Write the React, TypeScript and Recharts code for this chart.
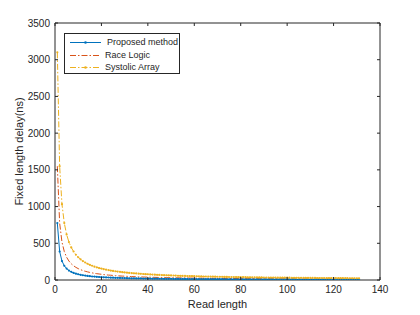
import React from 'react';
import { LineChart, Line, XAxis, YAxis, Legend, Label } from 'recharts';

const readLength = [
  1, 2, 3, 4, 5, 6, 7, 8, 9, 10, 11, 12, 13, 14, 15, 16, 17, 18, 19, 20,
  21, 22, 23, 24, 25, 26, 27, 28, 29, 30, 31, 32, 33, 34, 35, 36, 37, 38, 39, 40,
  41, 42, 43, 44, 45, 46, 47, 48, 49, 50, 51, 52, 53, 54, 55, 56, 57, 58, 59, 60,
  61, 62, 63, 64, 65, 66, 67, 68, 69, 70, 71, 72, 73, 74, 75, 76, 77, 78, 79, 80,
  81, 82, 83, 84, 85, 86, 87, 88, 89, 90, 91, 92, 93, 94, 95, 96, 97, 98, 99, 100,
  101, 102, 103, 104, 105, 106, 107, 108, 109, 110, 111, 112, 113, 114, 115, 116, 117, 118, 119, 120,
  121, 122, 123, 124, 125, 126, 127, 128, 129, 130, 131,
];

const proposedMethod = [
  775, 388, 258, 194, 155, 129, 111, 97, 86, 78,
  70, 65, 60, 55, 52, 48, 46, 43, 41, 39,
  37, 35, 34, 32, 31, 30, 29, 28, 27, 26,
  25, 24, 23, 23, 22, 22, 21, 20, 20, 19,
  19, 18, 18, 18, 17, 17, 16, 16, 16, 16,
  15, 15, 15, 14, 14, 14, 14, 13, 13, 13,
  13, 13, 12, 12, 12, 12, 12, 11, 11, 11,
  11, 11, 11, 10, 10, 10, 10, 10, 10, 10,
  10, 9, 9, 9, 9, 9, 9, 9, 9, 9,
  9, 8, 8, 8, 8, 8, 8, 8, 8, 8,
  8, 8, 8, 7, 7, 7, 7, 7, 7, 7,
  7, 7, 7, 7, 7, 7, 7, 7, 7, 6,
  6, 6, 6, 6, 6, 6, 6, 6, 6, 6,
  6,
];

const raceLogic = [
  1550, 775, 517, 388, 310, 258, 221, 194, 172, 155,
  141, 129, 119, 111, 103, 97, 91, 86, 82, 78,
  74, 70, 67, 65, 62, 60, 57, 55, 53, 52,
  50, 48, 47, 46, 44, 43, 42, 41, 40, 39,
  38, 37, 36, 35, 34, 34, 33, 32, 32, 31,
  30, 30, 29, 29, 28, 28, 27, 27, 26, 26,
  25, 25, 25, 24, 24, 23, 23, 23, 22, 22,
  22, 22, 21, 21, 21, 20, 20, 20, 20, 19,
  19, 19, 19, 18, 18, 18, 18, 18, 17, 17,
  17, 17, 17, 16, 16, 16, 16, 16, 16, 16,
  15, 15, 15, 15, 15, 15, 14, 14, 14, 14,
  14, 14, 14, 14, 13, 13, 13, 13, 13, 13,
  13, 13, 13, 13, 12, 12, 12, 12, 12, 12,
  12,
];

const systolicArray = [
  3100, 1550, 1033, 775, 620, 517, 443, 388, 344, 310,
  282, 258, 238, 221, 207, 194, 182, 172, 163, 155,
  148, 141, 135, 129, 124, 119, 115, 111, 107, 103,
  100, 97, 94, 91, 89, 86, 84, 82, 79, 78,
  76, 74, 72, 70, 69, 67, 66, 65, 63, 62,
  61, 60, 58, 57, 56, 55, 54, 53, 53, 52,
  51, 50, 49, 48, 48, 47, 46, 46, 45, 44,
  44, 43, 42, 42, 41, 41, 40, 40, 39, 39,
  38, 38, 37, 37, 36, 36, 36, 35, 35, 34,
  34, 34, 33, 33, 33, 32, 32, 32, 31, 31,
  31, 30, 30, 30, 30, 29, 29, 29, 28, 28,
  28, 28, 27, 27, 27, 27, 26, 26, 26, 26,
  26, 25, 25, 25, 25, 25, 24, 24, 24, 24,
  24,
];

const xTicks = [0, 20, 40, 60, 80, 100, 120, 140];
const yTicks = [0, 500, 1000, 1500, 2000, 2500, 3000, 3500];

const seriesNames = ['Proposed method', 'Race Logic', 'Systolic Array'];

const data = readLength.map((x, i) => ({
  x,
  p: proposedMethod[i],
  r: raceLogic[i],
  s: systolicArray[i],
}));

const AXIS = '#262626';
const BLUE = '#0072BD';
const RED = '#D95319';
const YELLOW = '#EDB120';
const DASHDOT = '6 2 1.5 2';
const FONT = '"Liberation Sans", Arial, Helvetica, sans-serif';

const BottomTick = (props: any) => {
  const { x, y, payload } = props;
  return (
    <g>
      <line x1={x} x2={x} y1={y} y2={y - 3} stroke={AXIS} strokeWidth={1} />
      <text x={x} y={y + 13} textAnchor="middle" fontSize={10} fill={AXIS} fontFamily={FONT}>
        {payload.value}
      </text>
    </g>
  );
};

const TopTick = (props: any) => {
  const { x, y } = props;
  return <line x1={x} x2={x} y1={y} y2={y + 3} stroke={AXIS} strokeWidth={1} />;
};

const LeftTick = (props: any) => {
  const { x, y, payload } = props;
  return (
    <g>
      <line x1={x} x2={x + 3} y1={y} y2={y} stroke={AXIS} strokeWidth={1} />
      <text x={x - 5} y={y + 3.5} textAnchor="end" fontSize={10} fill={AXIS} fontFamily={FONT}>
        {payload.value}
      </text>
    </g>
  );
};

const RightTick = (props: any) => {
  const { x, y } = props;
  return <line x1={x} x2={x - 3} y1={y} y2={y} stroke={AXIS} strokeWidth={1} />;
};

const legendStyles = [
  { color: BLUE, dash: undefined as string | undefined, marker: true, indent: 2 },
  { color: RED, dash: DASHDOT, marker: false, indent: 0 },
  { color: YELLOW, dash: DASHDOT, marker: true, indent: 0 },
];

const LegendBox = () => (
  <div
    style={{
      width: 116,
      height: 41,
      border: `1px solid ${AXIS}`,
      background: '#fff',
      position: 'relative',
      fontFamily: FONT,
      fontSize: 9,
      color: AXIS,
      boxSizing: 'border-box',
    }}
  >
    {seriesNames.map((name, i) => {
      const st = legendStyles[i];
      return (
        <div
          key={name}
          style={{
            position: 'absolute',
            left: 0,
            top: 2 + i * 12.5,
            height: 12.5,
            width: '100%',
          }}
        >
          <svg width={40} height={12.5} style={{ position: 'absolute', left: 0, top: 0 }}>
            <line x1={5} x2={36} y1={6.5} y2={6.5} stroke={st.color} strokeWidth={1} strokeDasharray={st.dash} />
            {st.marker && <circle cx={20.5} cy={6.5} r={1.3} fill={st.color} />}
          </svg>
          <span
            style={{
              position: 'absolute',
              left: 40 + st.indent,
              top: 0,
              lineHeight: '12.5px',
              whiteSpace: 'nowrap',
            }}
          >
            {name}
          </span>
        </div>
      );
    })}
  </div>
);

export default function App() {
  return (
    <div style={{ position: 'absolute', left: 0, top: 0, width: 420, height: 315, background: '#fff' }}>
      <LineChart
        width={420}
        height={315}
        data={data}
        margin={{ top: 22, right: 39, left: 0, bottom: 0 }}
        style={{ fontFamily: FONT }}
      >
        <XAxis
          dataKey="x"
          type="number"
          domain={[0, 140]}
          ticks={xTicks}
          tickSize={0}
          tickMargin={0}
          tickLine={false}
          height={35}
          stroke={AXIS}
          tick={<BottomTick />}
          interval={0}
          allowDataOverflow
        >
          <Label
            content={(p: any) => {
              const vb = p.viewBox || { x: 55, y: 280, width: 325, height: 35 };
              return (
                <text
                  x={vb.x + vb.width / 2}
                  y={vb.y + 28}
                  textAnchor="middle"
                  fontSize={11}
                  fill={AXIS}
                  fontFamily={FONT}
                >
                  Read length
                </text>
              );
            }}
          />
        </XAxis>
        <XAxis
          xAxisId="top"
          orientation="top"
          dataKey="x"
          type="number"
          domain={[0, 140]}
          ticks={xTicks}
          tickSize={0}
          tickMargin={0}
          tickLine={false}
          height={1}
          stroke={AXIS}
          tick={<TopTick />}
          interval={0}
          allowDataOverflow
        />
        <YAxis
          type="number"
          domain={[0, 3500]}
          ticks={yTicks}
          tickSize={0}
          tickMargin={0}
          tickLine={false}
          width={55}
          stroke={AXIS}
          tick={<LeftTick />}
          interval={0}
          allowDataOverflow
        >
          <Label
            content={(p: any) => {
              const vb = p.viewBox || { x: 0, y: 23, width: 55, height: 257 };
              const cx = vb.x + 19;
              const cy = vb.y + vb.height / 2;
              return (
                <text
                  x={cx}
                  y={cy}
                  transform={`rotate(-90 ${cx} ${cy})`}
                  textAnchor="middle"
                  dominantBaseline="central"
                  fontSize={11}
                  fill={AXIS}
                  fontFamily={FONT}
                >
                  Fixed length delay(ns)
                </text>
              );
            }}
          />
        </YAxis>
        <YAxis
          yAxisId="right"
          orientation="right"
          type="number"
          domain={[0, 3500]}
          ticks={yTicks}
          tickSize={0}
          tickMargin={0}
          tickLine={false}
          width={1}
          stroke={AXIS}
          tick={<RightTick />}
          interval={0}
          allowDataOverflow
        />
        <Legend
          layout="vertical"
          align="center"
          verticalAlign="middle"
          content={() => <LegendBox />}
          wrapperStyle={{ position: 'absolute', left: 64, top: 33, width: 'auto', height: 'auto' }}
        />
        <Line
          xAxisId="top"
          yAxisId="right"
          dataKey="s"
          stroke="none"
          strokeWidth={0}
          dot={false}
          activeDot={false}
          legendType="none"
          isAnimationActive={false}
        />
        <Line
          name={seriesNames[0]}
          dataKey="p"
          stroke={BLUE}
          strokeWidth={1}
          dot={{ r: 1.1, fill: BLUE, stroke: BLUE, strokeWidth: 0 }}
          activeDot={false}
          isAnimationActive={false}
        />
        <Line
          name={seriesNames[1]}
          dataKey="r"
          stroke={RED}
          strokeWidth={1}
          strokeDasharray={DASHDOT}
          dot={false}
          activeDot={false}
          isAnimationActive={false}
        />
        <Line
          name={seriesNames[2]}
          dataKey="s"
          stroke={YELLOW}
          strokeWidth={1}
          strokeDasharray={DASHDOT}
          dot={{ r: 1.1, fill: YELLOW, stroke: YELLOW, strokeWidth: 0 }}
          activeDot={false}
          isAnimationActive={false}
        />
      </LineChart>
    </div>
  );
}
